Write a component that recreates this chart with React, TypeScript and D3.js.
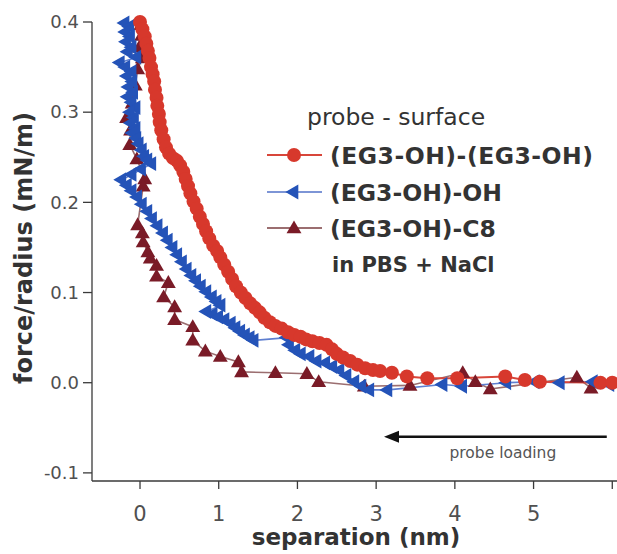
import React from "react";
import * as d3 from "d3";

// separation (nm), force/radius (mN/m)
const eg3Eg3: [number, number][] = [
  [0.0, 0.4], [0.03, 0.392], [0.06, 0.384], [0.08, 0.376], [0.1, 0.368], [0.12, 0.36], [0.14, 0.35],
  [0.16, 0.342], [0.18, 0.334], [0.19, 0.325], [0.21, 0.316], [0.22, 0.307], [0.24, 0.298], [0.25, 0.289],
  [0.27, 0.28], [0.3, 0.27], [0.33, 0.261], [0.37, 0.254], [0.42, 0.249], [0.47, 0.246], [0.51, 0.241],
  [0.55, 0.234], [0.58, 0.226], [0.61, 0.218], [0.64, 0.21], [0.68, 0.201], [0.72, 0.193], [0.76, 0.184],
  [0.8, 0.176], [0.84, 0.168], [0.88, 0.16], [0.93, 0.152], [0.98, 0.146], [1.02, 0.139], [1.07, 0.131],
  [1.12, 0.123], [1.17, 0.115], [1.22, 0.107], [1.28, 0.1], [1.34, 0.094], [1.4, 0.088], [1.46, 0.083],
  [1.52, 0.078], [1.58, 0.072], [1.65, 0.067], [1.72, 0.063], [1.8, 0.06], [1.88, 0.056], [1.96, 0.053],
  [2.04, 0.051], [2.11, 0.048], [2.19, 0.046], [2.28, 0.044], [2.37, 0.042], [2.44, 0.037], [2.5, 0.032],
  [2.58, 0.028], [2.67, 0.024], [2.76, 0.02], [2.86, 0.016], [2.96, 0.014], [3.05, 0.013], [3.2, 0.011],
  [3.39, 0.007], [3.65, 0.005], [4.03, 0.005], [4.64, 0.007], [4.89, 0.003], [5.08, 0.001], [5.85, 0.0],
  [6.0, 0.0],
];

const eg3Oh: [number, number][] = [
  [-0.19, 0.399], [-0.13, 0.395], [-0.18, 0.389], [-0.12, 0.384], [-0.17, 0.378], [-0.1, 0.372],
  [-0.15, 0.367], [-0.04, 0.361], [-0.25, 0.355], [-0.18, 0.35], [-0.1, 0.345], [-0.16, 0.34],
  [-0.09, 0.334], [-0.14, 0.328], [-0.08, 0.322], [-0.15, 0.317], [-0.1, 0.311], [-0.05, 0.305],
  [-0.12, 0.3], [-0.07, 0.294], [-0.11, 0.288], [-0.05, 0.282], [-0.09, 0.277], [-0.04, 0.271],
  [-0.01, 0.265], [0.03, 0.258], [0.06, 0.251], [0.1, 0.247], [0.15, 0.243], [0.02, 0.237],
  [-0.1, 0.231], [-0.23, 0.225], [-0.16, 0.219], [-0.1, 0.213], [-0.03, 0.206], [0.03, 0.198],
  [0.1, 0.19], [0.16, 0.182], [0.23, 0.174], [0.3, 0.166], [0.36, 0.158], [0.42, 0.15],
  [0.48, 0.142], [0.54, 0.134], [0.6, 0.126], [0.66, 0.119], [0.72, 0.113], [0.78, 0.107],
  [0.85, 0.101], [0.92, 0.095], [0.98, 0.09], [1.03, 0.086], [0.85, 0.079], [0.93, 0.076],
  [1.0, 0.073], [1.08, 0.07], [1.16, 0.066], [1.22, 0.061], [1.28, 0.057], [1.34, 0.053],
  [1.4, 0.05], [1.45, 0.047], [1.87, 0.05], [1.9, 0.042], [1.98, 0.036], [2.05, 0.032],
  [2.16, 0.029], [2.25, 0.024], [2.36, 0.022], [2.45, 0.018], [2.54, 0.014], [2.63, 0.008],
  [2.73, 0.001], [2.82, -0.004], [2.92, -0.008], [3.15, -0.008], [3.85, -0.002], [4.1, -0.004],
  [4.66, 0.0], [5.02, 0.001], [5.34, 0.0], [5.76, 0.001], [5.97, -0.002],
];

const eg3C8: [number, number][] = [
  [0.01, 0.397], [0.02, 0.385], [-0.01, 0.372], [0.03, 0.36], [-0.03, 0.348], [-0.06, 0.33],
  [-0.1, 0.31], [-0.17, 0.294], [-0.12, 0.28], [-0.13, 0.264], [-0.04, 0.248], [0.06, 0.226],
  [0.04, 0.218], [-0.03, 0.175], [0.03, 0.166], [0.04, 0.156], [0.1, 0.145], [0.13, 0.138],
  [0.21, 0.13], [0.21, 0.118], [0.36, 0.111], [0.3, 0.095], [0.44, 0.084], [0.44, 0.07],
  [0.67, 0.062], [0.67, 0.047], [0.83, 0.035], [1.02, 0.029], [1.25, 0.023], [1.29, 0.012],
  [1.72, 0.011], [2.12, 0.01], [2.27, 0.001], [2.85, -0.004], [3.43, -0.003], [4.1, 0.011],
  [4.26, 0.001], [4.45, -0.007], [5.55, 0.006], [5.73, -0.006],
];

const xTicks = [0, 1, 2, 3, 4, 5, 6];
const xTickLabels = ["0", "1", "2", "3", "4", "5", ""];
const yTicks = [-0.1, 0.0, 0.1, 0.2, 0.3, 0.4];
const yTickLabels = ["-0.1", "0.0", "0.1", "0.2", "0.3", "0.4"];

const legendTitle = "probe - surface";
const seriesNames = ["(EG3-OH)-(EG3-OH)", "(EG3-OH)-OH", "(EG3-OH)-C8"];
const legendNote = "in PBS + NaCl";
const arrowFrom = 5.93;
const arrowTo = 3.1;
const arrowY = -0.06;
const arrowLabel = "probe loading";

const W = 617;
const H = 554;
const FONT = "'DejaVu Sans', Verdana, sans-serif";

export default function App() {
  const x = d3.scaleLinear().domain([-0.61, 6.06]).range([92, 617]);
  const y = d3.scaleLinear().domain([-0.109, 0.4]).range([481, 22]);
  const line = d3
    .line<[number, number]>()
    .x((d) => x(d[0]))
    .y((d) => y(d[1]));
  const tri = d3.symbol().type(d3.symbolTriangle).size(96)() as string;
  const triL = d3.symbol().type(d3.symbolTriangle).size(96)() as string;

  const red = "#d7382c";
  const blue = "#2453b8";
  const brown = "#7a1b27";

  const legendRows = [
    { name: seriesNames[0], y: 155, color: red, lineColor: "#d8463a", kind: "circle" },
    { name: seriesNames[1], y: 192, color: blue, lineColor: "#7d95d6", kind: "left" },
    { name: seriesNames[2], y: 228, color: brown, lineColor: "#9b6e70", kind: "up" },
  ];

  const marker = (kind: string, cx: number, cy: number, color: string, key: any) => {
    if (kind === "circle") return <circle key={key} cx={cx} cy={cy} r={7} fill={color} />;
    if (kind === "left")
      return <path key={key} d={triL} transform={`translate(${cx},${cy}) rotate(-90)`} fill={color} />;
    return <path key={key} d={tri} transform={`translate(${cx},${cy + 1})`} fill={color} />;
  };

  return (
    <svg
      width={W}
      height={H}
      style={{ position: "absolute", left: 0, top: 0, background: "#fff" }}
      fontFamily={FONT}
    >
      {/* axes */}
      <g stroke="#3a3a3a" strokeWidth={1.3} fill="none">
        <line x1={x(-0.61)} x2={x(-0.61)} y1={y(0.4)} y2={y(-0.109)} />
        <line x1={x(-0.61)} x2={W} y1={y(-0.109)} y2={y(-0.109)} />
        {yTicks.map((t) => (
          <line key={t} x1={x(-0.61) - 9} x2={x(-0.61)} y1={y(t)} y2={y(t)} />
        ))}
        {xTicks.map((t) => (
          <line key={t} x1={x(t)} x2={x(t)} y1={y(-0.109)} y2={y(-0.109) + 8} />
        ))}
      </g>
      <g fill="#505050" fontSize={18}>
        {yTicks.map((t, i) => (
          <text key={t} x={x(-0.61) - 13} y={y(t)} dy="0.35em" textAnchor="end">
            {yTickLabels[i]}
          </text>
        ))}
      </g>
      <g fill="#505050" fontSize={21}>
        {xTicks.map((t, i) => (
          <text key={t} x={x(t)} y={521} textAnchor="middle">
            {xTickLabels[i]}
          </text>
        ))}
      </g>
      <text x={356} y={545} textAnchor="middle" fontSize={23} fontWeight="bold" fill="#333">
        separation (nm)
      </text>
      <text
        transform={`translate(32,248) rotate(-90)`}
        textAnchor="middle"
        fontSize={24}
        fontWeight="bold"
        fill="#333"
      >
        force/radius (mN/m)
      </text>

      {/* series lines */}
      <path d={line(eg3C8) || ""} fill="none" stroke="#9b6e70" strokeWidth={1.6} />
      <path d={line(eg3Oh) || ""} fill="none" stroke="#5f7fd0" strokeWidth={1.6} />
      <path d={line(eg3Eg3) || ""} fill="none" stroke="#d8463a" strokeWidth={2} />

      {/* markers */}
      {eg3C8.map((d, i) => marker("up", x(d[0]), y(d[1]), brown, "c" + i))}
      {eg3Oh.map((d, i) => marker("left", x(d[0]), y(d[1]), blue, "b" + i))}
      {eg3Eg3.map((d, i) => marker("circle", x(d[0]), y(d[1]), red, "r" + i))}

      {/* arrow */}
      <line x1={x(arrowFrom)} x2={x(arrowTo) + 10} y1={y(arrowY)} y2={y(arrowY)} stroke="#111" strokeWidth={2.5} />
      <path d={`M${x(arrowTo)},${y(arrowY)} l15,-6 l0,12 z`} fill="#111" />
      <text x={x(4.61)} y={y(-0.083)} textAnchor="middle" fontSize={15.5} fill="#555">
        {arrowLabel}
      </text>

      {/* legend */}
      <text x={307} y={125} fontSize={23.5} fill="#333">
        {legendTitle}
      </text>
      {legendRows.map((r, i) => (
        <g key={i}>
          <line x1={267} x2={322} y1={r.y} y2={r.y} stroke={r.lineColor} strokeWidth={2} />
          {marker(r.kind, 294, r.y, r.color, "l" + i)}
          <text x={330} y={r.y + 9} fontSize={23.5} fontWeight="bold" fill="#333" textLength={i === 0 ? 263 : undefined}>
            {r.name}
          </text>
        </g>
      ))}
      <text x={332} y={272} fontSize={21} fontWeight="bold" fill="#333">
        {legendNote}
      </text>
    </svg>
  );
}
